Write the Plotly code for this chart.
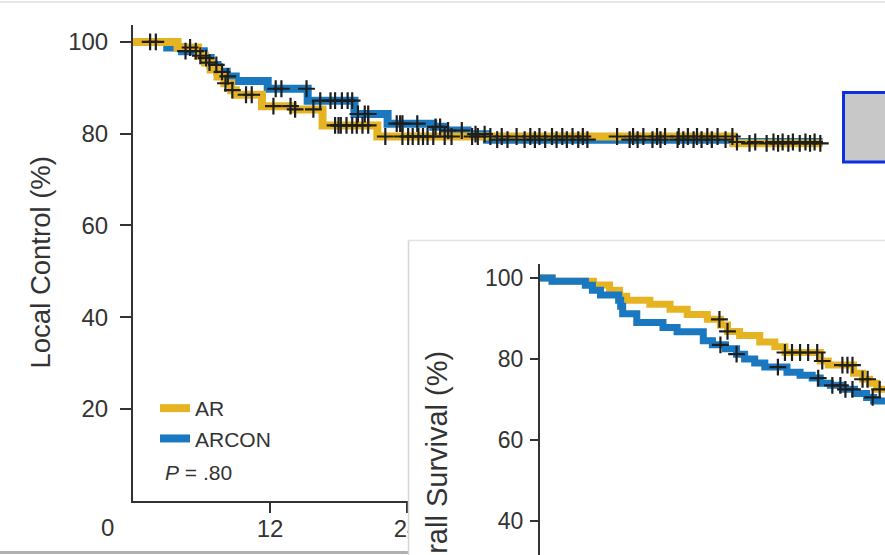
import numpy as np
import plotly.graph_objects as go

W, H = 885, 555
FONT = "Liberation Sans, Arial, Helvetica, sans-serif"
YELLOW = "#E6B422"
BLUE = "#1A78C0"
INK = "#333333"

# ---------------- Local control (months, %) ----------------
lc_ar_t = [0, 3.9, 5.7, 6.3, 6.8, 7.4, 8.0, 8.6, 9.0, 11.3, 14.0, 16.6, 21.4, 52.6, 60.4]
lc_ar_v = [100, 98.8, 97.0, 95.5, 94.0, 92.5, 91.0, 89.5, 88.5, 86.0, 85.3, 81.8, 79.4, 77.9, 77.9]
lc_arcon_t = [0, 3.0, 4.3, 6.2, 6.8, 7.4, 8.2, 9.0, 11.8, 15.3, 19.4, 22.3, 26.3, 27.3, 29.3, 31.0, 52.6, 60.4]
lc_arcon_v = [100, 98.8, 98.0, 96.5, 95.0, 93.5, 92.5, 91.5, 89.8, 87.2, 84.3, 82.2, 81.5, 80.7, 79.9, 78.7, 78.2, 78.2]

lc_ar_cens = [1.5, 2.0, 5.0, 5.9, 6.7, 8.1, 8.7, 9.9, 10.4, 12.3, 13.8, 14.2, 15.8, 17.7, 18.0, 18.2,
              18.7, 19.2, 19.6, 20.1, 20.6, 22.1, 23.6, 24.1, 24.5, 25.0, 25.4, 25.8, 26.3,
              27.3, 27.9, 29.7, 30.2, 31.3, 32.3, 33.6, 34.8, 35.6, 36.7, 37.6, 38.5, 39.4,
              42.4, 43.8, 44.7, 45.9, 46.6, 47.8, 48.6, 49.4, 50.3, 51.2, 52.5, 54.0, 55.5,
              56.5, 57.4, 58.4, 59.3, 60.2]
lc_arcon_cens = [4.6, 5.5, 6.4, 7.3, 7.8, 8.3, 12.5, 13.0, 15.2, 16.4, 17.3, 17.7, 18.3, 18.8, 19.2,
                 19.7, 20.3, 20.6, 23.1, 23.4, 23.6, 24.9, 26.5,
                 26.9, 27.6, 28.8, 30.0, 30.8, 31.9, 32.8, 34.3, 35.2, 36.1, 37.1, 38.0, 39.0,
                 39.8, 43.5, 44.2, 45.5, 46.2, 47.7, 48.2, 49.1, 49.8, 50.7, 51.9, 52.9, 54.5,
                 56.1, 56.9, 57.8, 58.9, 59.7]

# ---------------- Overall survival (months, %) ----------------
os_ar_t = [0, 1.3, 5.4, 7.0, 8.0, 8.7, 11.0, 13.0, 14.7, 16.7, 18.0, 18.7, 19.9, 21.9, 23.4,
           24.4, 27.9, 28.7, 31.2, 32.1, 32.8, 33.5, 35.0]
os_ar_v = [100, 99.2, 98.3, 97.0, 95.5, 94.5, 93.5, 92.3, 91.0, 89.8, 88.4, 86.8, 85.8, 84.2, 83.0,
           81.6, 79.5, 78.5, 76.5, 75.0, 74.0, 72.5, 72.5]
os_arcon_t = [0, 1.3, 4.6, 5.3, 6.1, 7.9, 8.1, 8.3, 9.7, 12.3, 13.7, 16.3, 17.2, 18.5, 19.6, 20.4,
              21.4, 22.4, 24.6, 25.9, 27.1, 27.9, 28.9, 30.1, 31.3, 32.5, 33.2, 35.0]
os_arcon_v = [100, 99.2, 98.2, 97.0, 95.8, 94.5, 93.0, 91.2, 89.0, 87.8, 86.7, 84.5, 83.5, 82.5, 81.2, 80.0,
              79.0, 78.0, 76.7, 76.0, 75.3, 74.0, 73.5, 72.5, 71.5, 70.5, 69.6, 69.6]

os_ar_cens = [17.9, 18.7, 24.4, 25.1, 25.9, 26.7, 27.6, 28.1, 30.1, 30.6, 31.1, 32.1, 32.6, 33.8]
os_arcon_cens = [18.0, 19.6, 23.7, 27.7, 29.1, 29.9, 30.4, 31.1, 33.1]

lc_yticks = [20, 40, 60, 80, 100]
lc_xticks = [12, 24, 36, 48, 60]
os_yticks = [40, 60, 80, 100]


def step_at(ts, vs, c):
    idx = np.searchsorted(np.asarray(ts), np.asarray(c), side="right") - 1
    return np.asarray(vs)[idx]


def px_x(p):
    return p / W


def px_y(p):
    return 1 - p / H


fig = go.Figure()

# Panel 1: local control
fig.add_trace(go.Scatter(x=lc_arcon_t, y=lc_arcon_v, mode="lines", line=dict(color=BLUE, width=8, shape="hv"),
                         name="ARCON", legendrank=2, xaxis="x", yaxis="y"))
fig.add_trace(go.Scatter(x=lc_ar_t, y=lc_ar_v, mode="lines", line=dict(color=YELLOW, width=8, shape="hv"),
                         name="AR", legendrank=1, xaxis="x", yaxis="y"))
for ts, vs, cens in [(lc_ar_t, lc_ar_v, lc_ar_cens), (lc_arcon_t, lc_arcon_v, lc_arcon_cens)]:
    fig.add_trace(go.Scatter(x=cens, y=step_at(ts, vs, cens), mode="markers", showlegend=False,
                             marker=dict(symbol="cross-thin", size=12, line=dict(color="#1e1e1e", width=2.2)),
                             xaxis="x", yaxis="y", hoverinfo="skip"))

# Panel 2: overall survival
fig.add_trace(go.Scatter(x=os_ar_t, y=os_ar_v, mode="lines", line=dict(color=YELLOW, width=7, shape="hv"),
                         showlegend=False, xaxis="x2", yaxis="y2"))
fig.add_trace(go.Scatter(x=os_arcon_t, y=os_arcon_v, mode="lines", line=dict(color=BLUE, width=7, shape="hv"),
                         showlegend=False, xaxis="x2", yaxis="y2"))
for ts, vs, cens in [(os_ar_t, os_ar_v, os_ar_cens), (os_arcon_t, os_arcon_v, os_arcon_cens)]:
    fig.add_trace(go.Scatter(x=cens, y=step_at(ts, vs, cens), mode="markers", showlegend=False,
                             marker=dict(symbol="cross-thin", size=12, line=dict(color="#1e1e1e", width=2.2)),
                             xaxis="x2", yaxis="y2", hoverinfo="skip"))

axis_common = dict(showgrid=False, zeroline=False, showline=True, linecolor=INK, linewidth=2,
                   ticks="outside", tickcolor=INK, tickwidth=2)

fig.update_layout(
    width=W, height=H, margin=dict(l=0, r=0, t=0, b=0, pad=0),
    paper_bgcolor="white", plot_bgcolor="white",
    font=dict(family=FONT, color=INK),
    xaxis=dict(domain=[px_x(133), 1], range=[0, (W - 133) / 11.417], anchor="y",
               tickvals=lc_xticks, ticklen=10, ticklabelstandoff=-5,
               tickfont=dict(family=FONT, size=24, color=INK), **axis_common),
    yaxis=dict(domain=[px_y(500.75), px_y(25)], range=[0, 103.7], anchor="x",
               tickvals=lc_yticks, ticklen=11, ticklabelstandoff=7,
               tickfont=dict(family=FONT, size=24, color=INK), **axis_common),
    xaxis2=dict(domain=[px_x(408), 1], range=[-(539 - 408) / 10.08, (W - 539) / 10.08], anchor="y2",
                visible=False),
    yaxis2=dict(domain=[0, px_y(264)], range=[100 - 277 / 4.05, 100 + 14 / 4.05], anchor="free",
                position=px_x(539), tickvals=os_yticks, ticklen=8, ticklabelstandoff=2,
                tickfont=dict(family=FONT, size=23, color=INK), **axis_common),
    showlegend=True,
    legend=dict(x=px_x(155), y=px_y(388), xanchor="left", yanchor="top", bgcolor="rgba(0,0,0,0)",
                font=dict(family=FONT, size=21, color=INK), tracegroupgap=0, itemwidth=30),
    annotations=[
        dict(text="Local Control (%)", x=px_x(40), y=px_y(262.5), xref="paper", yref="paper",
             textangle=-90, showarrow=False, xanchor="center", yanchor="middle",
             font=dict(family=FONT, size=27.5, color=INK)),
        dict(text="Overall Survival (%)", x=px_x(437), y=px_y(349), xref="paper", yref="paper",
             textangle=-90, showarrow=False, xanchor="center", yanchor="top",
             font=dict(family=FONT, size=29, color=INK)),
        dict(text="0", x=px_x(107), y=px_y(527), xref="paper", yref="paper", showarrow=False,
             xanchor="center", yanchor="middle", font=dict(family=FONT, size=24, color=INK)),
        dict(text="<i>P</i> = .80", x=px_x(163), y=px_y(472), xref="paper", yref="paper", showarrow=False,
             xanchor="left", yanchor="middle", font=dict(family=FONT, size=21, color=INK)),
    ],
    shapes=[
        dict(type="line", xref="paper", yref="paper", x0=0, x1=1, y0=px_y(2), y1=px_y(2),
             line=dict(color="#e6e6e6", width=2), layer="above"),
        dict(type="line", xref="paper", yref="paper", x0=0, x1=px_x(408), y0=px_y(552.5), y1=px_y(552.5),
             line=dict(color="#b0b0b0", width=3), layer="above"),
        dict(type="line", xref="paper", yref="paper", x0=px_x(408.5), x1=px_x(408.5), y0=px_y(240), y1=0,
             line=dict(color="#d6d6d6", width=1.5), layer="above"),
        dict(type="line", xref="paper", yref="paper", x0=px_x(408), x1=1, y0=px_y(240.5), y1=px_y(240.5),
             line=dict(color="#e4e4e4", width=1.5), layer="above"),
        dict(type="rect", xref="paper", yref="paper", x0=px_x(843.5), x1=px_x(892), y0=px_y(92.5), y1=px_y(162),
             fillcolor="#c8c8c8", line=dict(color="#0d2fe0", width=3), layer="above"),
    ],
)

fig.write_html("out.html")
